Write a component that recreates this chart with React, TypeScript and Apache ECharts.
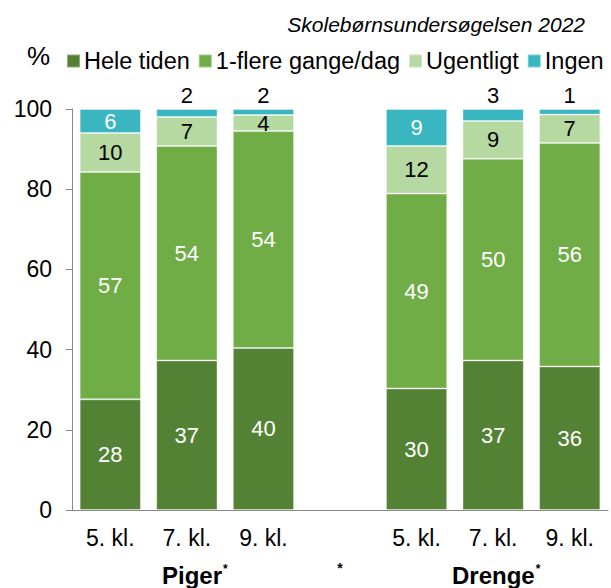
import React, { useEffect, useRef } from "react";
import * as echarts from "echarts";

const categories = ["5. kl.", "7. kl.", "9. kl.", "", "5. kl.", "7. kl.", "9. kl."];
const groupLabels = ["Piger", "Drenge"];
const seriesNames = ["Hele tiden", "1-flere gange/dag", "Ugentligt", "Ingen"];
const heleTiden = [27.6, 37.3, 40.4, null, 30.3, 37.3, 35.8];
const flereGange = [56.7, 53.5, 54.1, null, 48.6, 50.3, 55.7];
const ugentligt = [9.7, 7.2, 4.0, null, 11.9, 9.4, 7.1];
const ingen = [6.0, 2.0, 1.5, null, 9.2, 3.0, 1.4];
const yTicks = [0, 20, 40, 60, 80, 100];

const colors = ["#548235", "#70AD47", "#B6D8A1", "#3AB6C0"];
const FONT = "Arial, 'Liberation Sans', sans-serif";

export default function App() {
  const ref = useRef<HTMLDivElement>(null);
  useEffect(() => {
    if (!ref.current) return;
    const chart = echarts.init(ref.current, undefined, { renderer: "svg" });
    const fmt = (p: any) => (p.value == null || p.value === "-" ? "" : String(Math.round(p.value)));
    const toData = (arr: (number | null)[]) => arr.map((v) => (v == null ? "-" : v));
    const baseLabel = (color: string) => ({
      show: true,
      position: "inside",
      color,
      fontSize: 22,
      fontFamily: FONT,
      formatter: fmt,
    });
    const itemStyle = (c: string) => ({ color: c, borderColor: "rgba(255,255,255,0.35)", borderWidth: 1 });
    const ingenData = ingen.map((v) => {
      if (v == null) return "-";
      if (v < 4) {
        return { value: v, label: { position: "top", color: "#000", distance: 3 } };
      }
      return { value: v };
    });
    chart.setOption({
      animation: false,
      textStyle: { fontFamily: FONT },
      grid: { left: 72, right: 3, top: 109, bottom: 78, containLabel: false },
      title: {
        text: "Skolebørnsundersøgelsen 2022",
        right: 21,
        top: 9,
        textStyle: { fontStyle: "italic", fontWeight: "normal", fontSize: 21, color: "#000", fontFamily: FONT },
      },
      legend: {
        left: 66,
        top: 49,
        width: 545,
        padding: 0,
        icon: "rect",
        itemWidth: 13,
        itemHeight: 13,
        itemGap: 8,
        textStyle: { fontSize: 23.5, color: "#000", fontFamily: FONT, padding: [0, 0, 0, -1] },
        data: seriesNames,
      },
      xAxis: {
        type: "category",
        data: categories,
        axisLine: { show: true, lineStyle: { color: "#898989", width: 1 } },
        axisTick: { show: false },
        axisLabel: { fontSize: 23, color: "#000", margin: 16, fontFamily: FONT, interval: 0 },
      },
      yAxis: {
        type: "value",
        min: yTicks[0],
        max: yTicks[yTicks.length - 1],
        interval: 20,
        splitLine: { show: false },
        axisLine: { show: true, lineStyle: { color: "#898989", width: 1 } },
        axisTick: { show: true, inside: false, length: 6, lineStyle: { color: "#898989" } },
        axisLabel: { fontSize: 23, color: "#000", margin: 20, fontFamily: FONT },
      },
      series: [
        { name: seriesNames[0], type: "bar", stack: "s", barCategoryGap: "20%", data: toData(heleTiden), itemStyle: itemStyle(colors[0]), label: baseLabel("#fff") },
        { name: seriesNames[1], type: "bar", stack: "s", data: toData(flereGange), itemStyle: itemStyle(colors[1]), label: baseLabel("#fff") },
        { name: seriesNames[2], type: "bar", stack: "s", data: toData(ugentligt), itemStyle: itemStyle(colors[2]), label: baseLabel("#000") },
        { name: seriesNames[3], type: "bar", stack: "s", data: ingenData, itemStyle: itemStyle(colors[3]), label: baseLabel("#fff") },
      ],
    });
    const xAt = (i: number) => {
      const v = chart.convertToPixel({ xAxisIndex: 0 }, i);
      return Array.isArray(v) ? v[0] : (v as number);
    };
    const rich = {
      b: { fontSize: 24, fontWeight: "bold", fontFamily: FONT, fill: "#000", color: "#000" },
      s: { fontSize: 12, fontWeight: "bold", fontFamily: FONT, fill: "#000", color: "#000", verticalAlign: "top", padding: [0, 0, 12, 1] },
    };
    chart.setOption({
      graphic: [
        { type: "text", left: 27, top: 43, style: { text: "%", fontSize: 26, fontFamily: FONT, fill: "#000" } },
        { type: "text", x: xAt(1) + 8, y: 575, style: { text: `{b|${groupLabels[0]}}{s|*}`, rich, align: "center", verticalAlign: "middle" } },
        { type: "text", x: xAt(3), y: 568, style: { text: "*", fontSize: 14, fontWeight: "bold", fontFamily: FONT, fill: "#000", align: "center", verticalAlign: "middle" } },
        { type: "text", x: xAt(5) + 3, y: 575, style: { text: `{b|${groupLabels[1]}}{s|*}`, rich, align: "center", verticalAlign: "middle" } },
      ],
    });
    return () => chart.dispose();
  }, []);
  return <div ref={ref} style={{ width: 611, height: 588, position: "absolute", left: 0, top: 0 }} />;
}
